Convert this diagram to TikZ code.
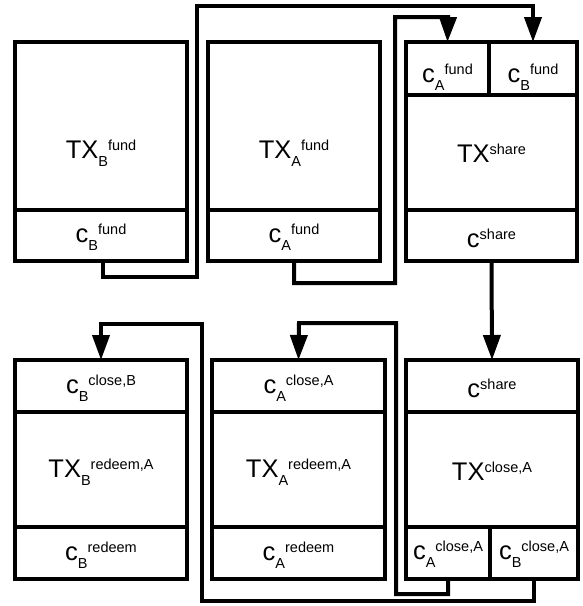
\documentclass[tikz,border=0pt]{standalone}
\usepackage{fontspec}
\setmainfont{Liberation Sans}
\usetikzlibrary{arrows.meta}
\newcommand\lab[3]{{\fontsize{25.5}{25.5}\selectfont #1}\raisebox{-8pt}{\fontsize{14.5}{14.5}\selectfont #2}\raisebox{8pt}{\fontsize{14.5}{14.5}\selectfont #3}}
\newcommand\cellbox[5]{\node[cell, minimum width=#4pt, minimum height=#5pt] (#1) at (#2,#3) {};}
\begin{document}
\begin{tikzpicture}[x=1pt,y=-1pt,
  cell/.style={draw, line width=4pt, rectangle, inner sep=0pt, outer sep=0pt, anchor=north west},
  lbl/.style={inner sep=0pt, anchor=base},
  conn/.style={draw, line width=4pt, -{Triangle[length=25pt,width=17pt]}}]
\useasboundingbox (0,0) rectangle (583,606);
% top row
\cellbox{b1t}{15}{42}{172}{168}
\cellbox{b1c}{15}{210}{172}{51}
\cellbox{b2t}{208}{42}{172}{168}
\cellbox{b2c}{208}{210}{172}{51}
\cellbox{b3a}{406}{42}{83}{53}
\cellbox{b3b}{489}{42}{88}{53}
\cellbox{b3t}{406}{95}{171}{115}
\cellbox{b3c}{406}{210}{171}{51}
% bottom row
\cellbox{b4a}{15}{360}{172}{52}
\cellbox{b4t}{15}{412}{172}{115}
\cellbox{b4c}{15}{527}{172}{52}
\cellbox{b5a}{212}{360}{173}{52}
\cellbox{b5t}{212}{412}{173}{115}
\cellbox{b5c}{212}{527}{173}{52}
\cellbox{b6a}{406}{360}{172}{52}
\cellbox{b6t}{406}{412}{172}{115}
\cellbox{b6ca}{406}{527}{84}{52}
\cellbox{b6cb}{490}{527}{88}{52}
% labels
\node[lbl] (l1) at (101,158) {\lab{TX}{B}{fund}};
\node[lbl] (l2) at (101,242) {\lab{c}{B}{fund}};
\node[lbl] (l3) at (294,158) {\lab{TX}{A}{fund}};
\node[lbl] (l4) at (294,242) {\lab{c}{A}{fund}};
\node[lbl] (l5) at (447.5,82) {\lab{c}{A}{fund}};
\node[lbl] (l6) at (533,82) {\lab{c}{B}{fund}};
\node[lbl] (l7) at (491.5,162) {\lab{TX}{}{share}};
\node[lbl] (l8) at (491.5,247) {\lab{c}{}{share}};
\node[lbl] (l9) at (101,393) {\lab{c}{B}{close,B}};
\node[lbl] (l10) at (101,477) {\lab{TX}{B}{redeem,A}};
\node[lbl] (l11) at (101,560) {\lab{c}{B}{redeem}};
\node[lbl] (l12) at (298.5,393) {\lab{c}{A}{close,A}};
\node[lbl] (l13) at (298.5,477) {\lab{TX}{A}{redeem,A}};
\node[lbl] (l14) at (298.5,560) {\lab{c}{A}{redeem}};
\node[lbl] (l15) at (492,397) {\lab{c}{}{share}};
\node[lbl] (l16) at (492,480) {\lab{TX}{}{close,A}};
\node[lbl] (l17) at (448,559) {\lab{c}{A}{close,A}};
\node[lbl] (l18) at (534,559) {\lab{c}{B}{close,A}};
% connectors
\draw[conn] ([xshift=2pt]b1c.south) |- (197,277) |- (533,6) -- (b3b.north);
\draw[conn] (b2c.south) |- (395,283) |- (448,17) -- (b3a.north);
\draw[conn] (b3c.south) -- (b6a.north);
\draw[conn] (b6ca.south) |- (396,594) |- (299,323) -- (b5a.north);
\draw[conn] (b6cb.south) |- (202,601) |- (101,324) -- (b4a.north);
\end{tikzpicture}
\end{document}
